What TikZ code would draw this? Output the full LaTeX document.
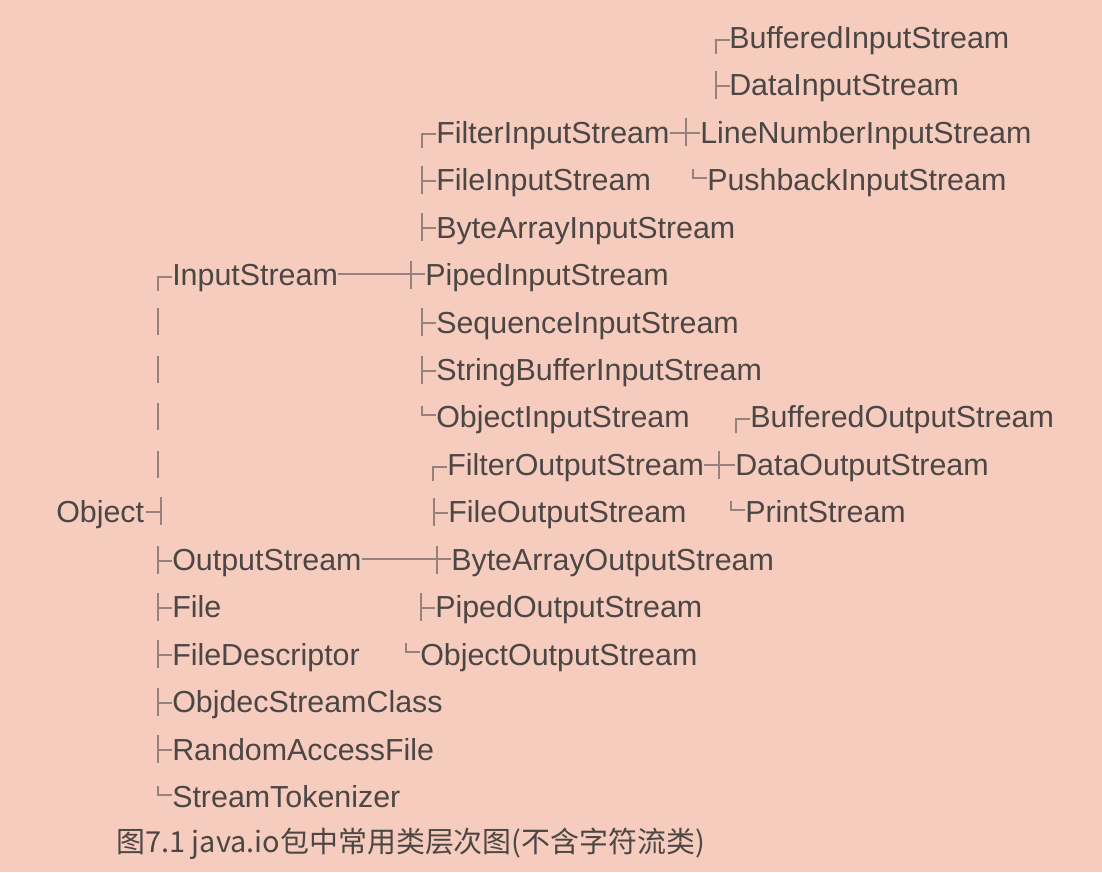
\documentclass[tikz,border=0pt]{standalone}
\usepackage{fontspec}
\setmainfont{Liberation Sans}
\newfontfamily\cjk{Noto Sans CJK SC}
\definecolor{bgc}{RGB}{246,204,191}
\definecolor{txt}{RGB}{76,70,68}
\definecolor{lnc}{RGB}{150,130,125}
\tikzset{
  cls/.style={anchor=base west, inner sep=0pt, text=txt, font=\fontsize{22.8}{27}\selectfont},
  ln/.style={draw=lnc, line width=1.5pt},
  tee/.pic={\draw[ln] (0,-14) -- (0,14); \draw[ln] (0,1) -- (14,1);},
  topc/.pic={\draw[ln] (0,16) -- (0,2) -- (14,2);},
  botc/.pic={\draw[ln] (0,-11) -- (0,-2) -- (14,-2);},
  vbar/.pic={\draw[ln] (0,-14) -- (0,13);},
  rtee/.pic={\draw[ln] (0,-15) -- (0,13); \draw[ln] (-15,0) -- (0,0);},
  cross/.pic={\draw[ln] (0,-14) -- (0,14);}
}
\begin{document}
\begin{tikzpicture}[x=0.75pt,y=-0.75pt]
\fill[bgc] (0,0) rectangle (1102,872);
\useasboundingbox (0,0) rectangle (1102,872);
% Level 3 (Filter input)
\node[cls] (bis) at (729,48.25) {BufferedInputStream};
\pic at (716,37.5) {topc};
\node[cls] (dis) at (729,95.7) {DataInputStream};
\pic at (716,85) {tee};
\node[cls] (fis) at (436,143.2) {FilterInputStream};
\pic at (422,132.4) {topc};
\node[cls] (lnis) at (700,143.2) {LineNumberInputStream};
\draw[ln] (fis.east |- 0,133) -- (lnis.west |- 0,133);
\pic at (686,132.4) {cross};
\node[cls] (fileis) at (436,190.6) {FileInputStream};
\pic at (422,179.9) {tee};
\node[cls] (pbis) at (707,190.6) {PushbackInputStream};
\pic at (693,179.9) {botc};
\node[cls] (bais) at (436,238.1) {ByteArrayInputStream};
\pic at (422,227.3) {tee};
% InputStream row
\node[cls] (is) at (172,285.5) {InputStream};
\pic at (158,274.8) {topc};
\node[cls] (pipis) at (425,285.5) {PipedInputStream};
\draw[ln] (is.east |- 0,274) -- (pipis.west |- 0,274);
\pic at (411,274.8) {cross};
\node[cls] (sis) at (436,333) {SequenceInputStream};
\pic at (422,322.2) {tee};
\pic at (158,322.2) {vbar};
\node[cls] (sbis) at (436,380.4) {StringBufferInputStream};
\pic at (422,369.7) {tee};
\pic at (158,369.7) {vbar};
\node[cls] (ois) at (436,427.9) {ObjectInputStream};
\pic at (422,417.1) {botc};
\pic at (158,417.1) {vbar};
\node[cls] (bos) at (750,427.9) {BufferedOutputStream};
\pic at (736,417.1) {topc};
\node[cls] (fos) at (447,475.3) {FilterOutputStream};
\pic at (433,464.6) {topc};
\node[cls] (dos) at (735,475.3) {DataOutputStream};
\draw[ln] (fos.east |- 0,465) -- (dos.west |- 0,465);
\pic at (719,464.6) {cross};
\pic at (158,464.6) {vbar};
% Object row
\node[cls] (obj) at (56,522.8) {Object};
\pic at (161,512) {rtee};
\node[cls] (fileos) at (448,522.8) {FileOutputStream};
\pic at (434,512) {tee};
\node[cls] (ps) at (745,522.8) {PrintStream};
\pic at (731,512) {botc};
% OutputStream row
\node[cls] (os) at (172,570.2) {OutputStream};
\pic at (158,559.5) {tee};
\node[cls] (baos) at (451,570.2) {ByteArrayOutputStream};
\draw[ln] (os.east |- 0,559) -- (baos.west |- 0,559);
\pic at (437,559.5) {cross};
\node[cls] (file) at (172,617.7) {File};
\pic at (158,606.9) {tee};
\node[cls] (pipos) at (435,617.7) {PipedOutputStream};
\pic at (421,606.9) {tee};
\node[cls] (fd) at (172,665.1) {FileDescriptor};
\pic at (158,654.4) {tee};
\node[cls] (oos) at (420,665.1) {ObjectOutputStream};
\pic at (406,654.4) {botc};
\node[cls] (osc) at (172,712.6) {ObjdecStreamClass};
\pic at (158,701.8) {tee};
\node[cls] (raf) at (172,760) {RandomAccessFile};
\pic at (158,749.3) {tee};
\node[cls] (st) at (172,807.5) {StreamTokenizer};
\pic at (158,796.7) {botc};
% caption
\node[anchor=west, inner sep=0pt, text=txt, font=\cjk\fontsize{21.7}{26}\selectfont] (cap) at (116,844) {图7.1 java.io包中常用类层次图(不含字符流类)};
\end{tikzpicture}
\end{document}
